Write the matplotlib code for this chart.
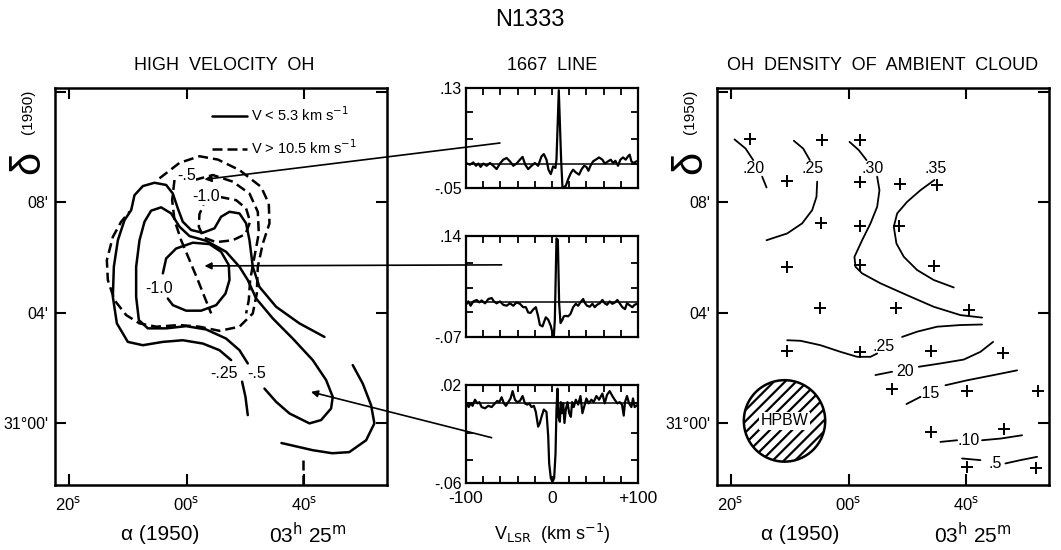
"""N1333: mapa de OH de alta velocidad, espectros 1667 y densidad de OH."""

import matplotlib
matplotlib.use("Agg")
import matplotlib.pyplot as plt
import numpy as np
from matplotlib import font_manager
from matplotlib.lines import Line2D
from matplotlib.patches import ConnectionPatch, Ellipse

NAN = np.nan

disponibles = {f.name for f in font_manager.fontManager.ttflist}
FAMILIA = [f for f in ("Liberation Sans", "DejaVu Sans") if f in disponibles] or ["DejaVu Sans"]
plt.rcParams["font.family"] = FAMILIA
plt.rcParams["hatch.linewidth"] = 1.6

# ---------------- espectros 1667 (V_LSR km/s, intensidad) ----------------
V1 = [-100, -95.4, -91.5, -88.4, -85.7, -83.0, -79.9, -76.0, -72.1, -68.3,
      -64.4, -60.5, -56.7, -52.8, -48.9, -45.0, -41.2, -37.3, -34.2, -31.1,
      -27.7, -23.8, -19.9, -16.1, -12.2, -9.5, -6.4, -4.1, -1.4, 1.3,
      4.0, 5.2, 7.9, 10.6, 12.2, 16.1, 18.8, 21.9, 24.6, 27.7,
      31.5, 34.2, 37.3, 40.0, 42.4, 44.7, 47.8, 50.9, 54.7, 58.6,
      61.3, 65.2, 68.3, 71.0, 73.7, 76.8, 79.5, 82.6, 85.7, 88.4,
      90.3, 92.3, 95.0, 98.1, 100]
T1 = [-0.005, -0.008, -0.004, -0.010, -0.006, -0.012, -0.006, -0.010, -0.005, -0.010,
      -0.016, -0.006, 0.001, 0.004, -0.002, -0.010, -0.006, 0.001, 0.006, -0.008,
      -0.016, -0.010, -0.005, -0.010, 0.007, 0.011, 0.001, -0.017, -0.025, -0.011,
      -0.014, 0.001, 0.126, 0.001, -0.050, -0.046, -0.034, -0.023, -0.017, -0.022,
      -0.026, -0.017, -0.010, -0.012, -0.019, -0.010, -0.002, 0.001, 0.005, 0.001,
      -0.006, -0.002, 0.001, -0.005, -0.001, -0.010, 0.001, 0.005, 0.001, 0.007,
      0.010, -0.002, -0.005, -0.002, -0.002]

V2 = [-100, -97.3, -94.6, -91.5, -87.6, -84.5, -81.8, -77.9, -74.0, -70.2,
      -67.5, -64.4, -60.5, -56.7, -52.8, -48.9, -45.0, -41.2, -37.3, -33.5,
      -30.4, -27.7, -25.0, -21.9, -18.8, -16.1, -14.1, -11.0, -9.1, -7.2,
      -4.4, -1.4, 0.6, 2.1, 3.3, 5.2, 6.8, 8.3, 9.9, 12.2,
      13.7, 16.1, 18.8, 21.5, 24.6, 27.7, 30.4, 33.1, 36.2, 38.5,
      40.8, 43.9, 47.0, 49.7, 52.4, 55.5, 58.6, 61.3, 64.0, 67.1,
      70.2, 73.3, 76.0, 78.7, 81.8, 84.9, 87.2, 90.3, 93.4, 96.1, 100]
T2 = [-0.003, 0.004, -0.005, 0.004, 0.007, 0.002, 0.006, 0.000, 0.009, 0.011,
      0.004, 0.000, 0.004, -0.003, -0.005, 0.000, -0.005, 0.002, -0.001, -0.008,
      -0.008, -0.019, -0.020, -0.013, -0.008, -0.027, -0.045, -0.048, -0.038, -0.029,
      -0.034, -0.047, -0.062, -0.070, -0.034, 0.135, 0.132, 0.000, -0.041, -0.034,
      -0.027, -0.026, -0.027, -0.022, -0.008, -0.001, -0.005, 0.002, 0.009, 0.000,
      -0.005, -0.007, -0.001, -0.008, -0.003, 0.000, 0.007, 0.000, -0.003, 0.004,
      -0.001, 0.002, 0.007, 0.000, -0.008, -0.012, 0.000, -0.004, -0.008, -0.003, 0.000]

V3 = [-100, -98.5, -96.9, -94.6, -92.3, -89.6, -86.8, -84.5, -81.8, -77.9,
      -74.1, -70.2, -66.3, -63.6, -61.3, -58.6, -55.9, -53.6, -50.9, -48.2,
      -45.8, -43.1, -40.4, -37.3, -34.2, -31.5, -28.8, -26.5, -23.8, -21.1,
      -18.8, -16.1, -14.1, -12.2, -9.5, -6.4, -4.4, -3.3, -1.4, 0.6,
      2.5, 4.1, 5.2, 6.4, 7.5, 9.1, 10.3, 11.4, 13.0, 14.5,
      16.1, 18.0, 20.0, 21.9, 23.4, 25.3, 27.7, 30.4, 33.1, 35.4,
      37.3, 40.0, 42.7, 45.8, 48.5, 51.6, 54.7, 58.6, 61.3, 64.0,
      67.1, 70.2, 72.9, 76.0, 78.7, 81.4, 83.4, 84.9, 87.2, 89.6,
      92.3, 94.2, 96.1, 100]
T3 = [0.002, 0.005, 0.002, 0.005, 0.003, 0.008, 0.005, 0.006, 0.002, 0.001,
      0.003, 0.002, 0.005, 0.007, 0.006, 0.010, 0.005, 0.003, 0.006, 0.009,
      0.015, 0.008, 0.006, 0.007, 0.011, 0.005, 0.004, 0.005, 0.002, 0.003,
      -0.002, -0.014, -0.011, -0.006, 0.000, -0.002, -0.022, -0.044, -0.056, -0.059,
      -0.056, -0.036, 0.000, 0.017, -0.006, -0.010, 0.006, -0.003, 0.005, -0.011,
      0.000, 0.006, -0.003, -0.006, 0.006, 0.002, 0.008, 0.004, 0.011, -0.003,
      0.002, 0.009, 0.005, 0.008, 0.006, 0.011, 0.008, 0.013, 0.005, 0.012,
      0.015, 0.011, 0.008, 0.005, 0.006, 0.004, -0.005, 0.006, 0.011, 0.005,
      0.002, 0.009, 0.002, 0.004]

LINEA_BASE = [-0.007, 0.002, 0.005]
LIMITES_Y = [(-0.05, 0.13), (-0.07, 0.14), (-0.06, 0.02)]
ETIQ_Y = [("-.05", ".13"), ("-.07", ".14"), ("-.06", ".02")]
MARCAS_Y = [[-0.007, 0.038, 0.086], [-0.019, 0.0315, 0.083], [-0.041, -0.019, 0.005]]

# ---------------- mapa OH alta velocidad (s de AR, ' de dec) ----------------
# contornos V < 5.3 km/s (sólidos)
S25_U = [23.39, 19.15, 15.20, 12.37, 11.24, 10.68, 10.11, 8.98, 7.29, 5.87, 4.74, 2.77, 0.79,
         -0.63, -1.47, -2.32, -3.45, -5.43, -7.40, -8.82, -9.38, -10.51, -11.64, -12.32,
         -12.49, -11.81, -9.95, -7.40, -4.02, -0.63, 2.77, 5.59, 7.57, NAN, 9.43, 10.0, 10.39]
S25_D = [3.12, 3.61, 4.21, 4.93, 5.66, 6.62, 7.23, 7.59, 7.65, 7.47, 7.05, 6.89, 6.99,
         7.29, 7.77, 8.31, 8.62, 8.70, 8.58, 8.25, 7.71, 7.35, 6.62, 5.66,
         4.57, 3.61, 2.94, 2.82, 2.94, 3.00, 2.88, 2.64, 2.28, NAN, 1.50, 0.95, 0.29]
S5_U = [13.22, 15.20, 17.46, 20.85, 22.82, 24.52, 24.80, 23.67, 21.41, 18.02, 14.63, 11.81,
        10.39, 8.98, 6.72, 3.33, 0.51, -1.19, -2.60, -4.30, -6.00, -7.12, -7.97, -8.54,
        -8.54, -8.08, -6.56, -3.45, -0.06, 3.33, 6.72, 8.98, 10.39]
S5_D = [1.25, 0.77, 0.35, -0.01, 0.11, 0.53, 0.95, 1.56, 2.28, 3.06, 3.79, 4.51,
        5.18, 5.66, 6.20, 6.60, 6.77, 7.11, 7.59, 7.81, 7.69, 7.29, 6.62, 5.66,
        4.57, 3.73, 3.43, 3.43, 3.51, 3.39, 3.06, 2.64, 2.16]
S10_U = [-4.01, -3.45, -1.76, 1.07, 3.90, 5.87, 7.17, 7.29, 6.61, 5.03, 2.48, -0.06, -2.32, -3.17]
S10_D = [5.42, 5.96, 6.32, 6.53, 6.48, 6.20, 5.72, 5.18, 4.69, 4.27, 4.07, 4.07, 4.27, 4.51]
SBAJO_U = [28.19, 29.89, 31.30, 31.86, 30.46, 27.6, 24.7, 21.4, 16.1]
SBAJO_D = [2.10, 1.43, 0.65, -0.01, -0.62, -1.05, -1.09, -0.98, -0.72]

# contornos V > 10.5 km/s (rayados)
R_EXT_U = [-4.58, -1.19, 2.20, 5.31, 8.98, 12.65, 13.95, 14.07, 12.94, 12.09, 11.92, 11.24, 8.98,
           5.59, 2.20, -1.19, -5.14, -7.97, -10.23, -12.21, -13.34, -13.51, -12.49, -11.08, -9.67]
R_EXT_D = [8.86, 9.42, 9.66, 9.54, 9.16, 8.55, 7.95, 7.23, 6.50, 5.66, 4.69, 3.97, 3.49,
           3.34, 3.49, 3.55, 3.49, 3.61, 3.91, 4.45, 5.18, 5.90, 6.74, 7.29, 7.65]
R_MED_U = [1.35, 4.46, 7.85, 10.68, 12.09, 12.26, 11.52, 10.79, 10.56, 10.11]
R_MED_D = [8.80, 8.98, 8.74, 8.31, 7.65, 6.87, 6.02, 5.18, 4.45, 3.97]
R_INT_U = [5.59, 8.42, 10.11, 10.79, 10.0, 7.85, 5.03, 2.88, 2.09, 2.20, 2.88]
R_INT_D = [8.19, 8.07, 7.77, 7.29, 6.84, 6.62, 6.55, 6.72, 7.11, 7.57, 7.89]
R_DIAG_U = [-2.04, -2.43, -2.04, -0.91, 0.51, 1.92, 3.05, 4.18]
R_DIAG_D = [8.80, 8.07, 7.35, 6.62, 5.90, 5.18, 4.57, 3.97]
R_BAJO_U = [19.72, 19.72]
R_BAJO_D = [-1.35, -2.24]

ETIQ_IZQ = [("-.5", -0.06, 8.98), ("-1.0", 3.33, 8.19), ("-1.0", -4.58, 4.87),
            ("-.25", 6.44, 1.80), ("-.5", 11.81, 1.80)]

# flechas: (v, T) en el espectro -> (s, ') en el mapa
FLECHA_DESDE = [(-60.5, 0.031), (-58.6, 0.080), (-70.2, -0.023)]
FLECHA_HASTA = [(3.05, 8.82), (3.05, 5.69), (21.1, 1.13)]

# ---------------- densidad de OH de la nube ambiente ----------------
PUNTOS_U = [-16.62, -4.47, 2.03, -10.40, 2.03, 8.70, 15.03, -4.58, 1.92, 8.53, -10.40, 1.92,
            14.46, -4.75, 8.13, 20.39, -10.40, 1.92, 14.01, 26.21, 7.40, 20.11, 32.14, 14.01,
            26.33, 20.11, 31.81]
PUNTOS_D = [10.27, 10.24, 10.24, 8.76, 8.73, 8.67, 8.61, 7.25, 7.13, 7.13, 5.66, 5.72,
            5.68, 4.15, 4.17, 4.11, 2.62, 2.58, 2.62, 2.55, 1.22, 1.17, 1.17, -0.31,
            -0.22, -1.58, -1.62]

DENSIDAD = [
    ([-19.33, -17.46, -16.16, NAN, -14.64, -13.90], [10.27, 9.94, 9.52, NAN, 8.92, 8.53]),
    ([-9.27, -7.69, -6.56, NAN, -5.31, -5.43, -6.16, -7.86, -10.40, -13.90],
     [10.22, 9.94, 9.52, NAN, 8.74, 8.19, 7.71, 7.23, 6.865, 6.62]),
    ([0.17, 1.75, 3.05, NAN, 4.86, 5.25, 4.86, 3.73, 2.31, 1.01, 1.18, 2.31, 5.42, 9.94, 14.46,
      18.98, 22.65],
     [10.18, 9.88, 9.52, NAN, 8.92, 8.43, 7.83, 7.23, 6.62, 6.02, 5.66, 5.42, 5.06, 4.63, 4.21,
      3.91, 3.82]),
    ([14.57, 12.20, 9.94, 8.25, 7.68, 8.13, 9.38, 11.64, 14.46, 17.85],
     [8.80, 8.43, 8.01, 7.59, 7.11, 6.50, 6.02, 5.54, 5.18, 4.91]),
    ([-10.40, -8.14, -4.75, -1.36, 1.47, 3.73, 4.86, NAN, 9.09, 11.64, 15.03, 18.98, 22.65],
     [3.00, 2.98, 2.82, 2.58, 2.40, 2.40, 2.52, NAN, 3.12, 3.31, 3.49, 3.55, 3.57]),
    ([4.57, 7.40, NAN, 11.92, 15.59, 19.54, 22.37, 24.52],
     [1.74, 1.86, NAN, 2.04, 2.16, 2.30, 2.58, 2.94]),
    ([9.83, 12.2, NAN, 16.44, 20.11, 24.63, 28.58], [0.69, 0.95, NAN, 1.37, 1.55, 1.74, 1.91]),
    ([15.59, 18.42, NAN, 22.65, 25.76, 29.43], [-0.68, -0.62, NAN, -0.62, -0.56, -0.44]),
    ([19.26, 22.37, NAN, 26.61, 29.15, 31.98], [-1.28, -1.34, NAN, -1.46, -1.34, -1.22]),
]
ETIQ_DER = [(".20", -16.05, 9.22), (".25", -6.16, 9.22), (".30", 4.01, 9.22),
            (".35", 14.74, 9.22), (".25", 5.99, 2.76), ("20", 9.66, 1.86),
            (".15", 13.61, 1.07), (".10", 20.39, -0.64), (".5", 24.91, -1.46)]
HAZ_CENTRO = (-10.85, 0.08)
HAZ_ANCHO, HAZ_ALTO = 13.8, 2.95

MAPA_XLIM = (-22.3, 34.0)
MAPA_YLIM = (-2.24, 12.13)
MAPA_XTICKS = [-20, 0, 20]
MAPA_XETIQ = ["20$^{\\mathrm{s}}$", "00$^{\\mathrm{s}}$", "40$^{\\mathrm{s}}$"]
MAPA_YTICKS = [0, 4, 8, 12]
MAPA_YETIQ = ["31°00'", "04'", "08'", ""]


def fx(px):
    return px / 1061


def fy(py):
    return 1 - py / 550


def preparar_mapa(ax):
    ax.set_xlim(*MAPA_XLIM)
    ax.set_ylim(*MAPA_YLIM)
    ax.set_xticks(MAPA_XTICKS, MAPA_XETIQ)
    ax.set_yticks(MAPA_YTICKS, MAPA_YETIQ)
    ax.tick_params(direction="in", top=True, right=True, length=8, width=1.5,
                   labelsize=12, pad=7)
    ax.tick_params(axis="y", labelsize=11.5, pad=5)
    for s in ax.spines.values():
        s.set_linewidth(1.8)


fig = plt.figure(figsize=(10.61, 5.5), dpi=100)

# ---- panel izquierdo
ax_izq = fig.add_axes([fx(55), fy(485), fx(332), 397 / 550])
preparar_mapa(ax_izq)
kw_s = dict(color="black", lw=1.8, solid_joinstyle="round", solid_capstyle="round")
kw_r = dict(color="black", lw=1.8, linestyle=(0, (4, 2)))
for u, d in [(S25_U, S25_D), (S5_U, S5_D), (S10_U, S10_D), (SBAJO_U, SBAJO_D)]:
    ax_izq.plot(u, d, **kw_s)
for u, d in [(R_EXT_U, R_EXT_D), (R_MED_U, R_MED_D), (R_INT_U, R_INT_D),
             (R_DIAG_U, R_DIAG_D), (R_BAJO_U, R_BAJO_D)]:
    ax_izq.plot(u, d, **kw_r)
for texto, u, d in ETIQ_IZQ:
    ax_izq.text(u, d, texto, ha="center", va="center", fontsize=11.5,
                bbox=dict(facecolor="white", edgecolor="none", pad=0.5))
manejadores = [Line2D([], [], **kw_s), Line2D([], [], **kw_r)]
ax_izq.legend(manejadores, ["V < 5.3 km s$^{-1}$", "V > 10.5 km s$^{-1}$"],
              loc="upper right", bbox_to_anchor=(0.95, 0.99), frameon=False,
              fontsize=10.5, handlelength=2.4, handletextpad=0.3, labelspacing=1.0)

# ---- panel derecho
ax_der = fig.add_axes([fx(717), fy(485), fx(332), 397 / 550])
preparar_mapa(ax_der)
for u, d in DENSIDAD:
    ax_der.plot(u, d, color="black", lw=1.3, solid_capstyle="round")
for texto, u, d in ETIQ_DER:
    ax_der.text(u, d, texto, ha="center", va="center", fontsize=11.5)
ax_der.plot(PUNTOS_U, PUNTOS_D, "+", color="black", ms=8, mew=1.4)
ax_der.add_patch(Ellipse(HAZ_CENTRO, HAZ_ANCHO, HAZ_ALTO, facecolor="white",
                         edgecolor="black", lw=1.8, hatch="///"))
ax_der.text(*HAZ_CENTRO, "HPBW", ha="center", va="center", fontsize=11.5,
            bbox=dict(facecolor="white", edgecolor="none", pad=1.0))

# ---- espectros centrales
posiciones = [(188, 100), (337, 101), (483, 98)]
ejes_esp = []
for i, (V, T) in enumerate([(V1, T1), (V2, T2), (V3, T3)]):
    abajo, alto = posiciones[i]
    ax = fig.add_axes([fx(466), fy(abajo), fx(172), alto / 550])
    ax.plot(V, T, color="black", lw=1.6, solid_joinstyle="round")
    ax.axhline(LINEA_BASE[i], color="black", lw=1.1)
    ax.set_xlim(-100, 100)
    ax.set_ylim(*LIMITES_Y[i])
    marcas_x = list(range(-100, 101, 20))
    if i == 2:
        ax.set_xticks(marcas_x, ["-100" if m == -100 else "0" if m == 0 else
                                 "+100" if m == 100 else "" for m in marcas_x])
    else:
        ax.set_xticks(marcas_x, [""] * len(marcas_x))
    lo, hi = LIMITES_Y[i]
    ax.set_yticks([lo] + MARCAS_Y[i] + [hi],
                  [ETIQ_Y[i][0]] + [""] * len(MARCAS_Y[i]) + [ETIQ_Y[i][1]])
    ax.tick_params(direction="in", top=True, right=True, length=5, width=1.3,
                   labelsize=11.5, pad=3)
    ax.tick_params(axis="x", labelsize=12.5, pad=6)
    for s in ax.spines.values():
        s.set_linewidth(1.6)
    ejes_esp.append(ax)

for ax, desde, hasta in zip(ejes_esp, FLECHA_DESDE, FLECHA_HASTA):
    con = ConnectionPatch(xyA=desde, coordsA=ax.transData, xyB=hasta, coordsB=ax_izq.transData,
                          arrowstyle="-|>", mutation_scale=10, lw=1.2, color="black",
                          shrinkA=0, shrinkB=0)
    fig.add_artist(con)

# ---- textos
fig.text(fx(530), fy(20), "N1333", ha="center", va="center", fontsize=17)
fig.text(fx(224), fy(65), "HIGH  VELOCITY  OH", ha="center", va="center", fontsize=13)
fig.text(fx(552), fy(65), "1667  LINE", ha="center", va="center", fontsize=13)
fig.text(fx(883), fy(65), "OH  DENSITY  OF  AMBIENT  CLOUD", ha="center", va="center",
         fontsize=13)
for x0 in (28, 690):
    fig.text(fx(x0), fy(162), "δ", rotation=90, ha="center", va="center", fontsize=30)
    fig.text(fx(x0), fy(112), "(1950)", rotation=90, ha="center", va="center", fontsize=11)
for xa, xh in ((160, 308), (800, 973)):
    fig.text(fx(xa), fy(535), "α (1950)", ha="center", va="center", fontsize=15)
    fig.text(fx(xh), fy(535), "03$^{\\mathrm{h}}$ 25$^{\\mathrm{m}}$", ha="center",
             va="center", fontsize=15)
fig.text(fx(552), fy(534), "V$_{\\mathrm{LSR}}$  (km s$^{-1}$)", ha="center", va="center",
         fontsize=13)

fig.savefig("out.png", dpi=100)
